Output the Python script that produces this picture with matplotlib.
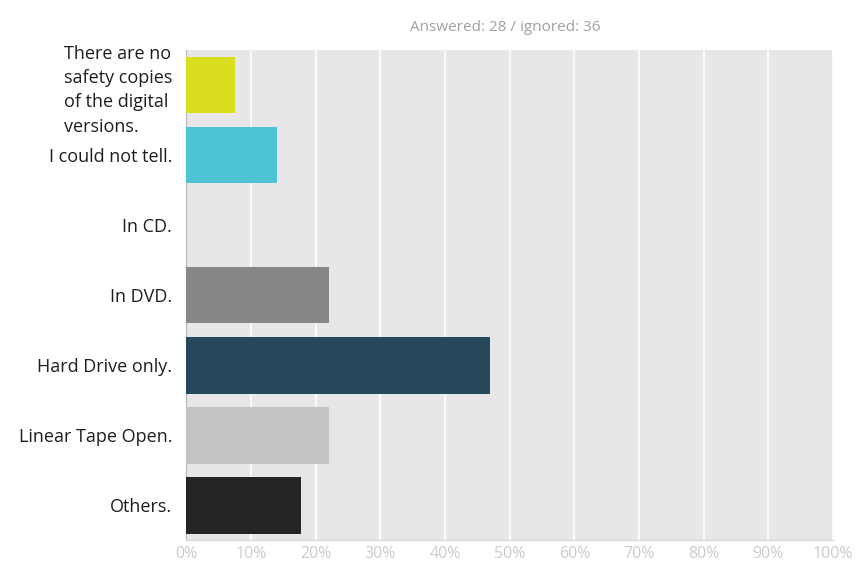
"""
Survey bar chart: where are the safety copies of the digital versions kept.
"""

import matplotlib.pyplot as plt

# Data
categories = [
    'There are no\nsafety copies\nof the digital\nversions.',
    'I could not tell.',
    'In CD.',
    'In DVD.',
    'Hard Drive only.',
    'Linear Tape Open.',
    'Others.',
]
percent = [7.5, 14.0, 0.0, 22.0, 47.0, 22.0, 17.8]
bar_colors = ['#d9df1f', '#4ec3d5', '#d0d0d0', '#878787', '#264a5b', '#c3c3c3', '#242424']
x_ticks = list(range(0, 101, 10))
x_tick_labels = [f'{t}%' for t in x_ticks]
title = 'Answered: 28 / ignored: 36'

plt.rcParams['font.family'] = ['Open Sans', 'DejaVu Sans']

fig = plt.figure(figsize=(8.66, 5.67), dpi=100)
ax = fig.add_axes([0.215, 0.047, 0.747, 0.865])
ax.set_facecolor('#e7e7ea')

# Bars
ypos = list(range(len(categories)))
ax.barh(ypos, percent, height=0.81, color=bar_colors, zorder=3)

# Formatting
ax.set_xlim(0, 100)
ax.set_ylim(len(categories) - 0.5, -0.5)
ax.set_xticks(x_ticks)
ax.set_xticklabels(x_tick_labels, color='#cbcbcb', fontsize=11.5)
ax.set_yticks(ypos)
ax.set_yticklabels(categories, fontsize=13, color='#1e1e1e')
for lbl in ax.get_yticklabels():
    lbl.set_multialignment('left')
    lbl.set_linespacing(1.45)
ax.tick_params(axis='both', length=0)
ax.tick_params(axis='y', pad=10)
ax.tick_params(axis='x', pad=4)
ax.grid(axis='x', color='white', linewidth=1.2, zorder=1)
ax.set_axisbelow(True)

for side in ['top', 'right']:
    ax.spines[side].set_visible(False)
ax.spines['left'].set_color('#b8b8b8')
ax.spines['bottom'].set_color('#d6d6d6')

fig.text(0.583, 0.952, title, ha='center', va='center', fontsize=11, color='#a0a0a0')

plt.savefig('out.png', dpi=100)
plt.close()
